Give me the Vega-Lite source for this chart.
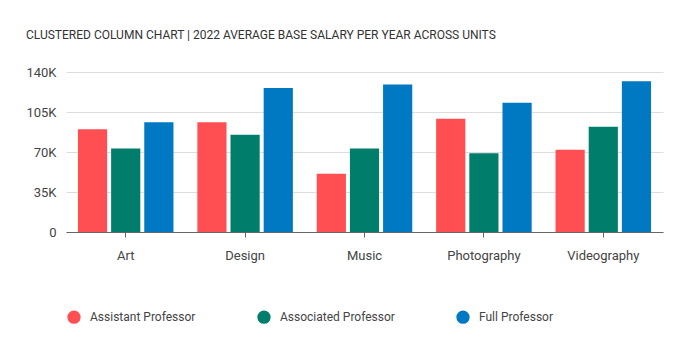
{
  "$schema": "https://vega.github.io/schema/vega-lite/v6.json",
  "width": 597,
  "height": 160,
  "autosize": {"type": "none"},
  "padding": {"left": 66, "top": 72, "right": 27, "bottom": 122},
  "background": "#ffffff",
  "title": {
    "text": "CLUSTERED COLUMN CHART | 2022 AVERAGE BASE SALARY PER YEAR ACROSS UNITS",
    "anchor": "start",
    "frame": "group",
    "dx": -40,
    "offset": 24,
    "font": "Roboto",
    "fontSize": 12,
    "fontWeight": "normal",
    "color": "#333333"
  },
  "config": {
    "view": {"stroke": null},
    "font": "Roboto"
  },
  "data": {
    "values": [
      {"unit": "Art", "rank": "Assistant Professor", "salary": 90000},
      {"unit": "Art", "rank": "Associated Professor", "salary": 73000},
      {"unit": "Art", "rank": "Full Professor", "salary": 96000},
      {"unit": "Design", "rank": "Assistant Professor", "salary": 96000},
      {"unit": "Design", "rank": "Associated Professor", "salary": 85000},
      {"unit": "Design", "rank": "Full Professor", "salary": 126000},
      {"unit": "Music", "rank": "Assistant Professor", "salary": 51000},
      {"unit": "Music", "rank": "Associated Professor", "salary": 73000},
      {"unit": "Music", "rank": "Full Professor", "salary": 129000},
      {"unit": "Photography", "rank": "Assistant Professor", "salary": 99000},
      {"unit": "Photography", "rank": "Associated Professor", "salary": 69000},
      {"unit": "Photography", "rank": "Full Professor", "salary": 113000},
      {"unit": "Videography", "rank": "Assistant Professor", "salary": 72000},
      {"unit": "Videography", "rank": "Associated Professor", "salary": 92000},
      {"unit": "Videography", "rank": "Full Professor", "salary": 132000}
    ]
  },
  "mark": {"type": "bar"},
  "encoding": {
    "x": {
      "field": "unit",
      "type": "nominal",
      "sort": null,
      "scale": {"paddingInner": 0.2, "paddingOuter": 0.1},
      "axis": {
        "title": null,
        "labelAngle": 0,
        "labelFont": "Roboto",
        "labelFontSize": 13,
        "labelColor": "#444444",
        "labelPadding": 12,
        "domainColor": "#666666",
        "tickColor": "#666666",
        "tickSize": 5,
        "grid": false
      }
    },
    "xOffset": {
      "field": "rank",
      "type": "nominal",
      "scale": {"paddingInner": 0.12, "paddingOuter": 0}
    },
    "y": {
      "field": "salary",
      "type": "quantitative",
      "scale": {"domain": [0, 140000], "nice": false},
      "axis": {
        "title": null,
        "values": [0, 35000, 70000, 105000, 140000],
        "labelExpr": "datum.value == 0 ? '0' : (datum.value / 1000) + 'K'",
        "labelFont": "Roboto",
        "labelFontSize": 13,
        "labelColor": "#444444",
        "labelPadding": 10,
        "domain": false,
        "ticks": false,
        "gridColor": "#dddddd",
        "gridWidth": 1
      }
    },
    "color": {
      "field": "rank",
      "type": "nominal",
      "scale": {
        "domain": ["Assistant Professor", "Associated Professor", "Full Professor"],
        "range": ["#ff4f52", "#007e6b", "#0078c2"]
      },
      "legend": {
        "title": null,
        "orient": "none",
        "direction": "horizontal",
        "legendX": 1,
        "legendY": 238,
        "symbolType": "circle",
        "symbolSize": 177,
        "symbolStrokeWidth": 0,
        "labelFont": "Roboto",
        "labelFontSize": 12,
        "labelColor": "#444444",
        "labelOffset": 9,
        "columnPadding": 61
      }
    }
  }
}
